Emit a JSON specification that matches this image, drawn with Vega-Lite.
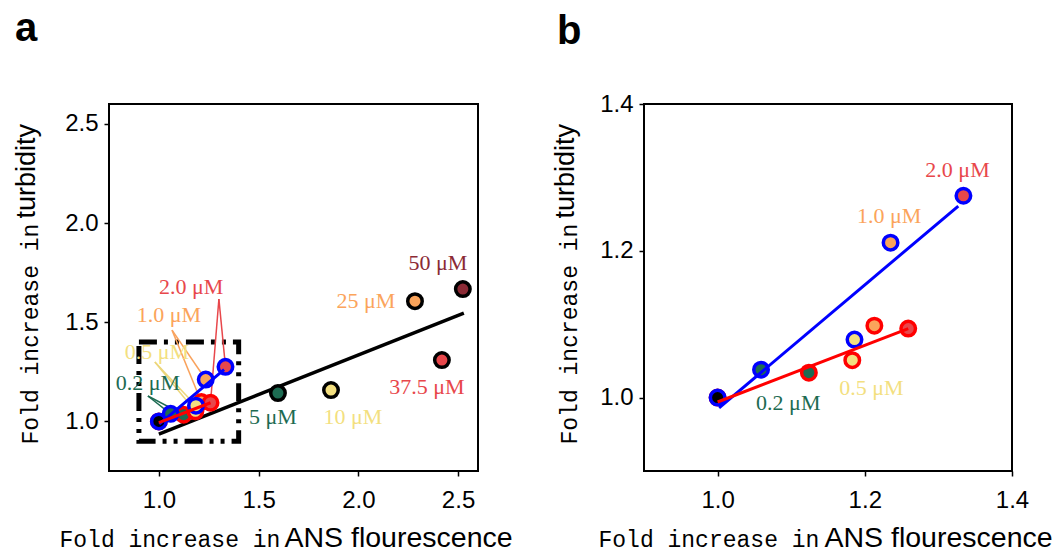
{
  "$schema": "https://vega.github.io/schema/vega-lite/v6.json",
  "background": "white",
  "padding": {"left": 11, "top": 8, "right": 5, "bottom": 5},
  "config": {
    "view": {"stroke": "black", "strokeWidth": 2},
    "axis": {"grid": false, "domain": false, "tickColor": "black", "tickWidth": 1.5, "tickSize": 5, "labelColor": "black", "labelFont": "Liberation Sans", "labelFontSize": 24, "titleColor": "black", "titleFontWeight": "normal"},
    "title": {"font": "Liberation Sans", "fontWeight": "bold", "fontSize": 40, "color": "black", "anchor": "start", "frame": "group", "baseline": "alphabetic"}
  },
  "datasets": {
    "box": [{"x": 0.9, "x2": 1.4, "y": 0.9, "y2": 1.4}],
    "pts": [
      {"series": "Black", "conc": "5", "x": 1.597, "y": 1.143},
      {"series": "Black", "conc": "10", "x": 1.863, "y": 1.158},
      {"series": "Black", "conc": "25", "x": 2.284, "y": 1.606},
      {"series": "Black", "conc": "37.5", "x": 2.419, "y": 1.309},
      {"series": "Black", "conc": "50", "x": 2.524, "y": 1.667},
      {"series": "Red", "conc": "0", "x": 1.0, "y": 1.0},
      {"series": "Red", "conc": "0.2", "x": 1.124, "y": 1.034},
      {"series": "Red", "conc": "0.5", "x": 1.183, "y": 1.051},
      {"series": "Red", "conc": "1.0", "x": 1.213, "y": 1.098},
      {"series": "Red", "conc": "2.0", "x": 1.259, "y": 1.094},
      {"series": "Blue", "conc": "0", "x": 1.0, "y": 1.0},
      {"series": "Blue", "conc": "0.2", "x": 1.059, "y": 1.038},
      {"series": "Blue", "conc": "0.5", "x": 1.186, "y": 1.079},
      {"series": "Blue", "conc": "1.0", "x": 1.235, "y": 1.211},
      {"series": "Blue", "conc": "2.0", "x": 1.334, "y": 1.275}
    ],
    "fits": [
      {"series": "Black", "x": 1.0, "y": 0.936},
      {"series": "Black", "x": 2.529, "y": 1.546},
      {"series": "Blue", "x": 1.002, "y": 0.986},
      {"series": "Blue", "x": 1.327, "y": 1.261},
      {"series": "Red", "x": 1.0, "y": 0.994},
      {"series": "Red", "x": 1.259, "y": 1.094}
    ],
    "leaders": [
      {"conc": "2.0", "x": 1.301, "y": 1.617, "x2": 1.259, "y2": 1.094},
      {"conc": "2.0", "x": 1.301, "y": 1.617, "x2": 1.334, "y2": 1.275},
      {"conc": "1.0", "x": 1.066, "y": 1.46, "x2": 1.235, "y2": 1.211},
      {"conc": "1.0", "x": 1.066, "y": 1.46, "x2": 1.213, "y2": 1.098},
      {"conc": "0.5", "x": 0.98, "y": 1.299, "x2": 1.186, "y2": 1.079},
      {"conc": "0.5", "x": 0.98, "y": 1.299, "x2": 1.183, "y2": 1.051},
      {"conc": "0.2", "x": 0.945, "y": 1.128, "x2": 1.059, "y2": 1.038},
      {"conc": "0.2", "x": 0.945, "y": 1.128, "x2": 1.124, "y2": 1.034}
    ],
    "labelsA": [
      {"conc": "2.0", "label": "2.0 μM", "x": 1.162, "y": 1.677},
      {"conc": "1.0", "label": "1.0 μM", "x": 1.05, "y": 1.536},
      {"conc": "0.5", "label": "0.5 μM", "x": 0.99, "y": 1.35},
      {"conc": "0.2", "label": "0.2 μM", "x": 0.945, "y": 1.193},
      {"conc": "5", "label": "5 μM", "x": 1.572, "y": 1.022},
      {"conc": "10", "label": "10 μM", "x": 1.973, "y": 1.022},
      {"conc": "25", "label": "25 μM", "x": 2.038, "y": 1.606},
      {"conc": "37.5", "label": "37.5 μM", "x": 2.344, "y": 1.173},
      {"conc": "50", "label": "50 μM", "x": 2.399, "y": 1.798}
    ],
    "labelsB": [
      {"conc": "2.0", "label": "2.0 μM", "x": 1.326, "y": 1.31},
      {"conc": "1.0", "label": "1.0 μM", "x": 1.233, "y": 1.248},
      {"conc": "0.5", "label": "0.5 μM", "x": 1.209, "y": 1.013},
      {"conc": "0.2", "label": "0.2 μM", "x": 1.096, "y": 0.993}
    ]
  },
  "bounds": "flush",
  "spacing": 166,
  "hconcat": [
    {
      "width": 369,
      "height": 367,
      "title": {"text": "a", "dx": -94, "offset": 55},
      "resolve": {"axis": {"x": "independent", "y": "independent"}},
      "layer": [
        {
          "data": {"name": "box"},
          "mark": {"type": "rect", "filled": false, "color": "black", "strokeWidth": 5, "strokeDash": [18, 7, 4, 7, 4, 7]},
          "encoding": {
            "x": {"field": "x", "type": "quantitative", "scale": {"domain": [0.75, 2.6], "nice": false, "zero": false}, "axis": null},
            "x2": {"field": "x2"},
            "y": {"field": "y", "type": "quantitative", "scale": {"domain": [0.75, 2.6], "nice": false, "zero": false}, "axis": null},
            "y2": {"field": "y2"}
          }
        },
        {
          "data": {"name": "fits"},
          "transform": [{"filter": "datum.series == 'Black'"}],
          "mark": {"type": "line", "color": "black", "strokeWidth": 3.5},
          "encoding": {
            "x": {"field": "x", "type": "quantitative", "scale": {"domain": [0.75, 2.6], "nice": false, "zero": false}, "axis": null},
            "y": {"field": "y", "type": "quantitative", "scale": {"domain": [0.75, 2.6], "nice": false, "zero": false}, "axis": null}
          }
        },
        {
          "data": {"name": "leaders"},
          "mark": {"type": "rule", "strokeWidth": 1.5},
          "encoding": {
            "x": {"field": "x", "type": "quantitative", "scale": {"domain": [0.75, 2.6], "nice": false, "zero": false}, "axis": null},
            "y": {"field": "y", "type": "quantitative", "scale": {"domain": [0.75, 2.6], "nice": false, "zero": false}, "axis": null},
            "x2": {"field": "x2"},
            "y2": {"field": "y2"},
            "stroke": {"field": "conc", "type": "nominal", "legend": null, "scale": {"domain": ["Red", "Blue", "Black", "0.2", "0.5", "1.0", "2.0"], "range": ["#ff0000", "#0000ff", "#000000", "#1d6b52", "#ecd67a", "#f9a25c", "#e8474b"]}}
          }
        },
        {
          "data": {"name": "pts"},
          "mark": {"type": "point", "shape": "circle", "filled": true, "size": 210, "strokeWidth": 3.5, "opacity": 1},
          "encoding": {
            "x": {"field": "x", "type": "quantitative", "scale": {"domain": [0.75, 2.6], "nice": false, "zero": false},
              "axis": {"orient": "bottom", "values": [1, 1.5, 2, 2.5], "format": ".1f", "labelFlush": false, "labelPadding": 12, "title": "Fold increase in", "titleFont": "Liberation Mono", "titleFontSize": 23, "titleX": -50, "titleY": 75, "titleAlign": "left", "titleBaseline": "alphabetic", "titleAngle": 0}},
            "y": {"field": "y", "type": "quantitative", "scale": {"domain": [0.75, 2.6], "nice": false, "zero": false},
              "axis": {"orient": "left", "values": [1, 1.5, 2, 2.5], "format": ".1f", "labelPadding": 6, "title": "Fold increase in", "titleFont": "Liberation Mono", "titleFontSize": 23, "titleX": -72, "titleY": 340, "titleAlign": "left", "titleBaseline": "alphabetic", "titleAngle": -90}},
            "fill": {"field": "conc", "type": "nominal", "legend": null, "scale": {"domain": ["0", "0.2", "0.5", "1.0", "2.0", "5", "10", "25", "37.5", "50"], "range": ["#000000", "#1d6b52", "#f3df80", "#fba45b", "#e8474b", "#1d6b52", "#f3df80", "#fba45b", "#e8474b", "#8b2a35"]}},
            "stroke": {"field": "series", "type": "nominal", "legend": null, "scale": {"domain": ["Red", "Blue", "Black", "0.2", "0.5", "1.0", "2.0"], "range": ["#ff0000", "#0000ff", "#000000", "#1d6b52", "#ecd67a", "#f9a25c", "#e8474b"]}}
          }
        },
        {
          "data": {"name": "fits"},
          "transform": [{"filter": "datum.series != 'Black'"}],
          "mark": {"type": "line", "strokeWidth": 3},
          "encoding": {
            "x": {"field": "x", "type": "quantitative", "scale": {"domain": [0.75, 2.6], "nice": false, "zero": false}, "axis": null},
            "y": {"field": "y", "type": "quantitative", "scale": {"domain": [0.75, 2.6], "nice": false, "zero": false}, "axis": null},
            "stroke": {"field": "series", "type": "nominal", "legend": null, "scale": {"domain": ["Red", "Blue", "Black", "0.2", "0.5", "1.0", "2.0"], "range": ["#ff0000", "#0000ff", "#000000", "#1d6b52", "#ecd67a", "#f9a25c", "#e8474b"]}}
          }
        },
        {
          "data": {"name": "labelsA"},
          "mark": {"type": "text", "font": "Liberation Serif", "fontSize": 22, "align": "center", "baseline": "middle"},
          "encoding": {
            "x": {"field": "x", "type": "quantitative", "scale": {"domain": [0.75, 2.6], "nice": false, "zero": false},
              "axis": {"orient": "bottom", "labels": false, "ticks": false, "domain": false, "title": "ANS flourescence", "titleFont": "Liberation Sans", "titleFontSize": 28.5, "titleX": 175, "titleY": 75, "titleAlign": "left", "titleBaseline": "alphabetic", "titleAngle": 0}},
            "y": {"field": "y", "type": "quantitative", "scale": {"domain": [0.75, 2.6], "nice": false, "zero": false},
              "axis": {"orient": "left", "labels": false, "ticks": false, "domain": false, "title": "turbidity", "titleFont": "Liberation Sans", "titleFontSize": 27, "titleX": -75, "titleY": 114, "titleAlign": "left", "titleBaseline": "alphabetic", "titleAngle": -90}},
            "text": {"field": "label"},
            "fill": {"field": "conc", "type": "nominal", "legend": null, "scale": {"domain": ["0", "0.2", "0.5", "1.0", "2.0", "5", "10", "25", "37.5", "50"], "range": ["#000000", "#1d6b52", "#f3df80", "#fba45b", "#e8474b", "#1d6b52", "#f3df80", "#fba45b", "#e8474b", "#8b2a35"]}}
          }
        }
      ]
    },
    {
      "width": 368,
      "height": 367,
      "title": {"text": "b", "dx": -87, "offset": 40},
      "resolve": {"axis": {"x": "independent", "y": "independent"}},
      "layer": [
        {
          "data": {"name": "pts"},
          "transform": [{"filter": "datum.series != 'Black'"}],
          "mark": {"type": "point", "shape": "circle", "filled": true, "size": 210, "strokeWidth": 3.5, "opacity": 1},
          "encoding": {
            "x": {"field": "x", "type": "quantitative", "scale": {"domain": [0.9, 1.4], "nice": false, "zero": false},
              "axis": {"orient": "bottom", "values": [1, 1.2, 1.4], "format": ".1f", "labelFlush": false, "labelPadding": 12, "title": "Fold increase in", "titleFont": "Liberation Mono", "titleFontSize": 23, "titleX": -46, "titleY": 75, "titleAlign": "left", "titleBaseline": "alphabetic", "titleAngle": 0}},
            "y": {"field": "y", "type": "quantitative", "scale": {"domain": [0.9, 1.4], "nice": false, "zero": false},
              "axis": {"orient": "left", "values": [1, 1.2, 1.4], "format": ".1f", "labelPadding": 6, "title": "Fold increase in", "titleFont": "Liberation Mono", "titleFontSize": 23, "titleX": -68, "titleY": 340, "titleAlign": "left", "titleBaseline": "alphabetic", "titleAngle": -90}},
            "fill": {"field": "conc", "type": "nominal", "legend": null, "scale": {"domain": ["0", "0.2", "0.5", "1.0", "2.0", "5", "10", "25", "37.5", "50"], "range": ["#000000", "#1d6b52", "#f3df80", "#fba45b", "#e8474b", "#1d6b52", "#f3df80", "#fba45b", "#e8474b", "#8b2a35"]}},
            "stroke": {"field": "series", "type": "nominal", "legend": null, "scale": {"domain": ["Red", "Blue", "Black", "0.2", "0.5", "1.0", "2.0"], "range": ["#ff0000", "#0000ff", "#000000", "#1d6b52", "#ecd67a", "#f9a25c", "#e8474b"]}}
          }
        },
        {
          "data": {"name": "fits"},
          "transform": [{"filter": "datum.series != 'Black'"}],
          "mark": {"type": "line", "strokeWidth": 3},
          "encoding": {
            "x": {"field": "x", "type": "quantitative", "scale": {"domain": [0.9, 1.4], "nice": false, "zero": false}, "axis": null},
            "y": {"field": "y", "type": "quantitative", "scale": {"domain": [0.9, 1.4], "nice": false, "zero": false}, "axis": null},
            "stroke": {"field": "series", "type": "nominal", "legend": null, "scale": {"domain": ["Red", "Blue", "Black", "0.2", "0.5", "1.0", "2.0"], "range": ["#ff0000", "#0000ff", "#000000", "#1d6b52", "#ecd67a", "#f9a25c", "#e8474b"]}}
          }
        },
        {
          "data": {"name": "labelsB"},
          "mark": {"type": "text", "font": "Liberation Serif", "fontSize": 22, "align": "center", "baseline": "middle"},
          "encoding": {
            "x": {"field": "x", "type": "quantitative", "scale": {"domain": [0.9, 1.4], "nice": false, "zero": false},
              "axis": {"orient": "bottom", "labels": false, "ticks": false, "domain": false, "title": "ANS flourescence", "titleFont": "Liberation Sans", "titleFontSize": 28.5, "titleX": 180, "titleY": 75, "titleAlign": "left", "titleBaseline": "alphabetic", "titleAngle": 0}},
            "y": {"field": "y", "type": "quantitative", "scale": {"domain": [0.9, 1.4], "nice": false, "zero": false},
              "axis": {"orient": "left", "labels": false, "ticks": false, "domain": false, "title": "turbidity", "titleFont": "Liberation Sans", "titleFontSize": 27, "titleX": -71, "titleY": 114, "titleAlign": "left", "titleBaseline": "alphabetic", "titleAngle": -90}},
            "text": {"field": "label"},
            "fill": {"field": "conc", "type": "nominal", "legend": null, "scale": {"domain": ["0", "0.2", "0.5", "1.0", "2.0", "5", "10", "25", "37.5", "50"], "range": ["#000000", "#1d6b52", "#f3df80", "#fba45b", "#e8474b", "#1d6b52", "#f3df80", "#fba45b", "#e8474b", "#8b2a35"]}}
          }
        }
      ]
    }
  ]
}
